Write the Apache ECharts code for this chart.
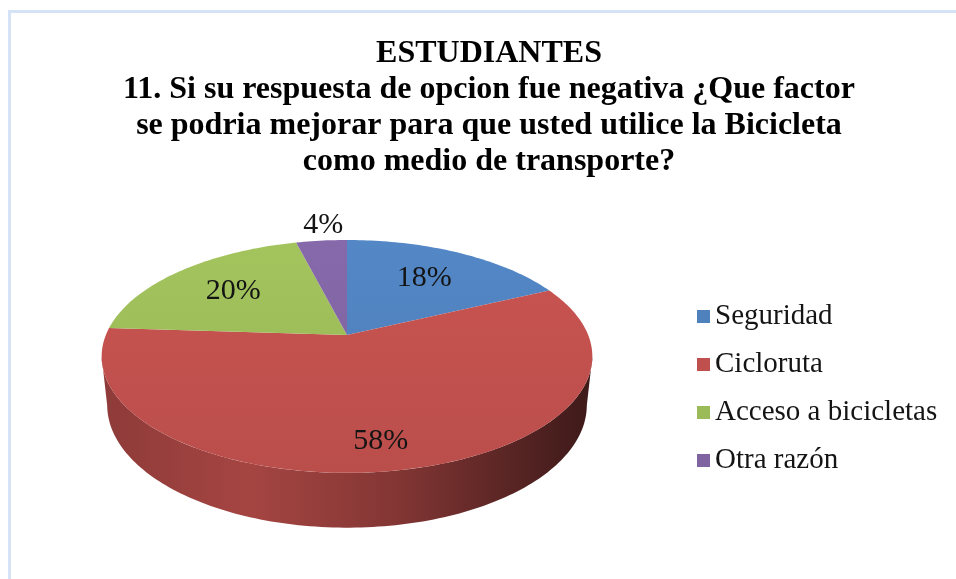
<!DOCTYPE html>
<html>
<head>
<meta charset="utf-8">
<script src="https://cdn.jsdelivr.net/npm/echarts@6/dist/echarts.min.js"></script>
<style>
html, body { margin: 0; padding: 0; background: #fff; }
#main { width: 956px; height: 579px; }
</style>
</head>
<body>
<div id="main"></div>
<script>
// datos de la encuesta (porcentajes)
var categories = ['Seguridad', 'Cicloruta', 'Acceso a bicicletas', 'Otra razón'];
var values = [18, 58, 20, 4];
var colors = ['#4f81bd', '#c0504d', '#9bbb59', '#8064a2'];

// camara del pastel 3D (perspectiva simple)
var CX = 347, CY = 335, F = 1160, DIST = 4.81, H = 0.23;
var TILT = 27.8 * Math.PI / 180, SIN_T = Math.sin(TILT), COS_T = Math.cos(TILT);
// angulo de la silueta lateral (punto mas ancho del borde)
var SIDE_A = Math.acos(-COS_T / DIST);

var total = values.reduce(function (a, b) { return a + b; }, 0);

function shade(hex, k) {
    var n = parseInt(hex.slice(1), 16);
    var r = Math.min(255, Math.round(((n >> 16) & 255) * k));
    var g = Math.min(255, Math.round(((n >> 8) & 255) * k));
    var b = Math.min(255, Math.round((n & 255) * k));
    return 'rgb(' + r + ',' + g + ',' + b + ')';
}

// angulo a (desde las 12, horario), radio r (0..1), altura y
function proj(a, r, y) {
    var X = r * Math.sin(a), Z = r * Math.cos(a);
    var yc = y * COS_T + Z * SIN_T;
    var zc = DIST + Z * COS_T - y * SIN_T;
    return [CX + F * X / zc, CY - F * yc / zc];
}

function renderSlice(i) {
    return function (params, api) {
        var v = api.value(0);
        var before = 0;
        for (var j = 0; j < i; j++) before += values[j];
        var start = before / total * Math.PI * 2;
        var end = start + v / total * Math.PI * 2;
        var children = [];

        // pared lateral (parte visible del frente)
        var a0 = Math.max(start, SIDE_A), a1 = Math.min(end, Math.PI * 2 - SIDE_A);
        if (a1 > a0) {
            var pts = [], n = Math.max(2, Math.ceil((a1 - a0) / 0.02)), k;
            for (k = 0; k <= n; k++) pts.push(proj(a0 + (a1 - a0) * k / n, 1, 0));
            for (k = n; k >= 0; k--) pts.push(proj(a0 + (a1 - a0) * k / n, 1, -H));
            children.push({
                type: 'polygon',
                shape: { points: pts },
                style: {
                    fill: new echarts.graphic.LinearGradient(CX - 244, 0, CX + 244, 0, [
                        { offset: 0, color: shade(colors[i], 0.74) },
                        { offset: 0.3, color: shade(colors[i], 0.86) },
                        { offset: 0.6, color: shade(colors[i], 0.68) },
                        { offset: 0.85, color: shade(colors[i], 0.45) },
                        { offset: 1, color: shade(colors[i], 0.32) }
                    ], true)
                }
            });
        }

        // cara superior
        var top = [proj(0, 0, 0)];
        var m = Math.max(2, Math.ceil((end - start) / 0.02));
        for (var t = 0; t <= m; t++) top.push(proj(start + (end - start) * t / m, 1, 0));
        children.push({
            type: 'polygon',
            shape: { points: top },
            style: {
                fill: new echarts.graphic.LinearGradient(0, CY - 95, 0, CY + 138, [
                    { offset: 0, color: shade(colors[i], 1.05) },
                    { offset: 1, color: shade(colors[i], 0.97) }
                ], true)
            }
        });

        // etiqueta
        var mid = (start + end) / 2, pos;
        if (v / total < 0.08) {
            var e = proj(mid, 1, 0), c = proj(0, 0, 0);
            var dx = e[0] - c[0], dy = e[1] - c[1], len = Math.sqrt(dx * dx + dy * dy);
            pos = [e[0] + dx / len * 16 + 6, e[1] + dy / len * 16];
        } else {
            pos = proj(mid, 0.66, 0);
            if (Math.cos(mid) < 0) pos[1] += -Math.cos(mid) * 24;
        }
        children.push({
            type: 'text',
            x: pos[0],
            y: pos[1],
            style: {
                text: v + '%',
                font: '30px "Liberation Serif"',
                fill: '#141414',
                align: 'center',
                verticalAlign: 'middle'
            }
        });
        return { type: 'group', children: children };
    };
}

var series = categories.map(function (name, i) {
    return {
        type: 'custom',
        name: name,
        coordinateSystem: 'none',
        silent: true,
        itemStyle: { color: colors[i] },
        data: [values[i]],
        renderItem: renderSlice(i)
    };
});

var chart = echarts.init(document.getElementById('main'));
var option = {
    animation: false,
    backgroundColor: '#fff',
    title: {
        text: 'ESTUDIANTES\n11. Si su respuesta de opcion fue negativa ¿Que factor\nse podria mejorar para que usted utilice la Bicicleta\ncomo medio de transporte?',
        left: 484,
        top: 31,
        textAlign: 'center',
        textStyle: {
            fontFamily: 'Liberation Serif',
            fontWeight: 'bold',
            fontSize: 32,
            lineHeight: 36,
            color: '#000'
        }
    },
    legend: {
        orient: 'vertical',
        left: 692,
        top: 297,
        icon: 'rect',
        itemWidth: 13,
        itemHeight: 13,
        itemGap: 19,
        selectedMode: false,
        textStyle: {
            fontFamily: 'Liberation Serif',
            fontSize: 29,
            color: '#141414'
        },
        data: categories
    },
    graphic: [
        { type: 'line', shape: { x1: 9.5, y1: 11, x2: 9.5, y2: 579 }, style: { stroke: '#d6e2f5', lineWidth: 3 } },
        { type: 'line', shape: { x1: 8, y1: 11.5, x2: 956, y2: 11.5 }, style: { stroke: '#d6e2f5', lineWidth: 3 } }
    ],
    series: series
};
chart.setOption(option);
</script>
</body>
</html>
